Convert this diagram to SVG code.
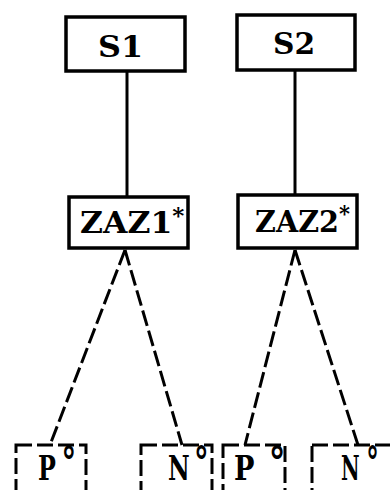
<svg xmlns="http://www.w3.org/2000/svg" width="390" height="490" viewBox="0 0 390 490">
<style>
.box{fill:#fff;stroke:#000;stroke-width:3.5}
.dbox{fill:none;stroke:#000;stroke-width:3;stroke-dasharray:16 5}
.t{font-family:"DejaVu Serif","Liberation Serif",serif;font-weight:bold;fill:#000}
.c{stroke:#000;stroke-width:3;fill:none}
.d{stroke:#000;stroke-width:3;fill:none;stroke-dasharray:16 5}
.b{font-size:34px}
.sup{font-size:22px}
.deg{font-size:42px}
</style>
<rect width="390" height="490" fill="#fff"/>
<g id="connectors">
<line class="c" x1="127" y1="71" x2="127" y2="197"/>
<line class="c" x1="295" y1="70" x2="295" y2="195"/>
<line class="d" x1="125" y1="250" x2="50" y2="445"/>
<line class="d" x1="125" y1="250" x2="182" y2="445"/>
<line class="d" x1="295" y1="250" x2="245" y2="445"/>
<line class="d" x1="295" y1="250" x2="358" y2="445"/>
</g>
<g id="S1">
<rect class="box" x="66" y="17" width="119" height="54"/>
<text class="t" transform="translate(98,57) scale(1.06,1)" font-size="30">S1</text>
</g>
<g id="S2">
<rect class="box" x="237" y="15" width="118" height="55"/>
<text class="t" transform="translate(273,54) scale(0.99,1)" font-size="30">S2</text>
</g>
<g id="ZAZ1">
<rect class="box" x="69" y="197" width="119" height="51"/>
<text class="t" transform="translate(80,233) scale(1.05,1)" font-size="30">ZAZ1<tspan class="sup" dy="-10">*</tspan></text>
</g>
<g id="ZAZ2">
<rect class="box" x="238" y="195" width="119" height="53"/>
<text class="t" transform="translate(255,232) scale(0.955,1)" font-size="30">ZAZ2<tspan class="sup" dy="-11">*</tspan></text>
</g>
<g id="P1">
<rect class="dbox" x="16" y="445" width="70" height="60"/>
<text class="t b" transform="translate(38,480) scale(0.7,1)">P<tspan class="deg" dx="8" dy="-3">°</tspan></text>
</g>
<g id="N1">
<rect class="dbox" x="141" y="445" width="71" height="60"/>
<text class="t b" transform="translate(168,480) scale(0.7,1)">N<tspan class="deg" dx="6" dy="-3">°</tspan></text>
</g>
<g id="P2">
<rect class="dbox" x="223" y="445" width="62" height="60"/>
<text class="t b" transform="translate(234,480) scale(0.8,1)">P<tspan class="deg" dx="18" dy="-3">°</tspan></text>
</g>
<g id="N2">
<rect class="dbox" x="312" y="445" width="85" height="60"/>
<text class="t b" transform="translate(341,480) scale(0.6,1)">N<tspan class="deg" dx="11" dy="-3">°</tspan></text>
</g>
</svg>
